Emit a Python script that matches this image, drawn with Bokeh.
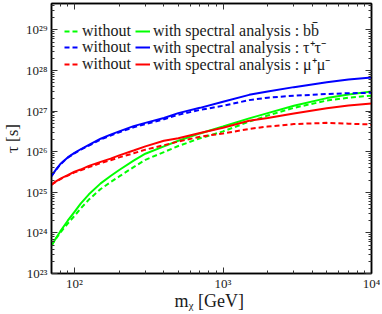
import math
from bokeh.plotting import figure
from bokeh.models import (LogAxis, FixedTicker, CustomJSTickFormatter, Legend,
                          LegendItem, Range1d)
from bokeh.embed import file_html
from bokeh.resources import INLINE

# ---- data ----
mass = [70, 75, 80, 85, 90, 100, 110, 125, 150, 175, 200, 250, 300, 400, 500, 700,
        1000, 1500, 2000, 3000, 5000, 7000, 10000]
# log10(tau [s])
bb_with    = [23.69, 23.87, 24.03, 24.17, 24.30, 24.52, 24.72, 24.95, 25.22, 25.40, 25.55, 25.78,
              25.95, 26.13, 26.27, 26.45, 26.62, 26.82, 26.95, 27.13, 27.32, 27.41, 27.48]
bb_without = [23.69, 23.86, 24.00, 24.12, 24.23, 24.42, 24.60, 24.82, 25.08, 25.25, 25.39, 25.62,
              25.80, 25.99, 26.14, 26.33, 26.50, 26.74, 26.89, 27.08, 27.26, 27.33, 27.38]
tt_with    = [25.40, 25.56, 25.69, 25.78, 25.86, 25.97, 26.06, 26.17, 26.32, 26.42, 26.50, 26.63,
              26.71, 26.83, 26.95, 27.08, 27.23, 27.40, 27.48, 27.59, 27.71, 27.78, 27.83]
tt_without = [25.40, 25.55, 25.68, 25.77, 25.85, 25.96, 26.05, 26.15, 26.30, 26.40, 26.48, 26.60,
              26.68, 26.80, 26.91, 27.03, 27.13, 27.27, 27.33, 27.38, 27.42, 27.44, 27.45]
mm_with    = [25.19, 25.27, 25.33, 25.38, 25.42, 25.51, 25.56, 25.65, 25.75, 25.83, 25.91, 26.03,
              26.13, 26.27, 26.33, 26.46, 26.59, 26.76, 26.83, 26.94, 27.07, 27.14, 27.19]
mm_without = [25.19, 25.26, 25.32, 25.37, 25.41, 25.49, 25.54, 25.62, 25.72, 25.79, 25.86, 25.96,
              26.05, 26.16, 26.25, 26.37, 26.45, 26.56, 26.62, 26.68, 26.71, 26.69, 26.67]

x_ticks = [1e2, 1e3, 1e4]
y_ticks = [1e23, 1e24, 1e25, 1e26, 1e27, 1e28, 1e29]
label_without = "without"
labels_with = ["with spectral analysis : bb\u0304",
               "with spectral analysis : \u03c4\u207a\u03c4\u207b",
               "with spectral analysis : \u03bc\u207a\u03bc\u207b"]
x_title = "m\u1d6a  [GeV]"
y_title = "\u03c4 [s]"

GREEN, BLUE, RED = "#00ff00", "#0000ff", "#ff0000"
SERIF = "Liberation Serif"
INK = "#1a1a1a"

p = figure(width=380, height=314, x_axis_type="log", y_axis_type="log",
           x_range=Range1d(70, 1e4), y_range=Range1d(1e23, 10 ** 29.65),
           output_backend="svg", toolbar_location=None,
           min_border_left=51, min_border_right=9, min_border_top=3, min_border_bottom=41)
p.grid.visible = False
p.outline_line_color = "black"
p.outline_line_width = 1.5
p.background_fill_color = "white"

def tau(vals):
    return [10 ** v for v in vals]

rs = []
for col, w, wo in [(GREEN, bb_with, bb_without),
                   (BLUE, tt_with, tt_without),
                   (RED, mm_with, mm_without)]:
    r_wo = p.line(mass, tau(wo), line_color=col, line_width=2, line_dash="5 3")
    r_w = p.line(mass, tau(w), line_color=col, line_width=2)
    rs.append((r_wo, r_w))

fmt_code = """
const e = Math.round(Math.log10(tick));
const sup = {'0':'\u2070','1':'\u00b9','2':'\u00b2','3':'\u00b3','4':'\u2074','5':'\u2075',
             '6':'\u2076','7':'\u2077','8':'\u2078','9':'\u2079','-':'\u207b'};
return '10' + String(e).split('').map(c => sup[c]).join('');
"""

x_minor = [k * 10 ** n for n in range(1, 4) for k in range(2, 10)]
y_minor = [k * 10 ** n for n in range(22, 30) for k in range(2, 10)]

def style_axis(ax, ticks, minor, show_labels):
    ax.ticker = FixedTicker(ticks=ticks, minor_ticks=minor)
    ax.axis_line_color = "black"
    ax.axis_line_width = 1.5
    ax.major_tick_in = 6
    ax.major_tick_out = 0
    ax.minor_tick_in = 3
    ax.minor_tick_out = 0
    ax.major_tick_line_color = "#333333"
    ax.minor_tick_line_color = "#333333"
    if show_labels:
        ax.formatter = CustomJSTickFormatter(code=fmt_code)
        ax.major_label_text_font = SERIF
        ax.major_label_text_font_size = "13px"
        ax.major_label_text_color = INK
        ax.major_label_standoff = 4
        ax.axis_label_text_font = SERIF
        ax.axis_label_text_font_style = "normal"
        ax.axis_label_text_font_size = "17px"
        ax.axis_label_text_color = INK
    else:
        ax.major_label_text_font_size = "0px"
        ax.major_label_standoff = 0
        ax.major_label_text_alpha = 0

style_axis(p.xaxis[0], x_ticks, x_minor, True)
style_axis(p.yaxis[0], y_ticks, y_minor, True)
p.xaxis[0].major_label_standoff = 2
p.xaxis[0].axis_label = x_title
p.xaxis[0].axis_label_standoff = -3
p.xaxis[0].axis_label_text_font_size = "18px"
p.yaxis[0].axis_label = y_title
p.yaxis[0].axis_label_standoff = 1

top = LogAxis()
right = LogAxis()
p.add_layout(top, "above")
p.add_layout(right, "right")
style_axis(top, x_ticks, x_minor, False)
style_axis(right, y_ticks, y_minor, False)

# one legend per row, placed at the reference's row positions
row_bottoms = [233, 215.5, 198]
for (r_wo, r_w), lab, yb in zip(rs, labels_with, row_bottoms):
    lg = Legend(items=[LegendItem(label=label_without, renderers=[r_wo]),
                       LegendItem(label=lab, renderers=[r_w])],
                orientation="horizontal", location=(13, yb), padding=0, margin=0,
                spacing=4, glyph_width=15, glyph_height=14, label_height=14,
                label_standoff=3, label_text_font=SERIF, label_text_font_size="16px",
                label_text_color=INK, border_line_alpha=0, background_fill_alpha=0)
    p.add_layout(lg, "center")

open("out.html", "w").write(file_html(p, INLINE))
